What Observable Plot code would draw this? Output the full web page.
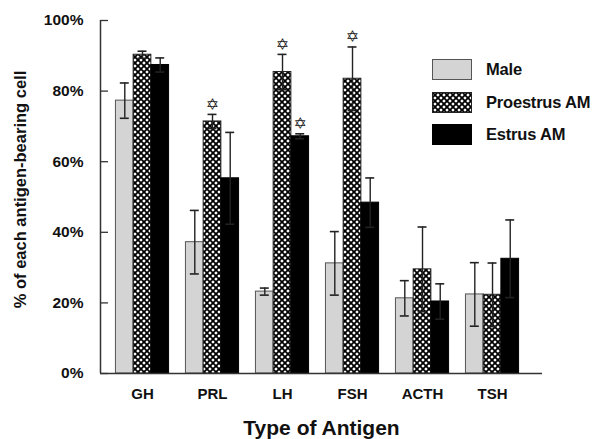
<!DOCTYPE html>
<html>
<head>
<meta charset="utf-8">
<script src="https://cdn.jsdelivr.net/npm/d3@7"></script>
<script src="https://cdn.jsdelivr.net/npm/@observablehq/plot@0.6"></script>
<style>
  html, body { margin: 0; padding: 0; background: #fff; }
  #wrap { position: relative; width: 597px; height: 439px; font-family: "Liberation Sans", Arial, Helvetica, sans-serif; }
  #legend { position: absolute; left: 432px; top: 59px; }
  .li { display: flex; align-items: center; height: 21px; margin-bottom: 11.5px; }
  .li svg { display: block; margin-right: 14px; }
  .li span { font-weight: bold; font-size: 16.5px; color: #111; letter-spacing: -0.2px; }
</style>
</head>
<body>
<svg width="0" height="0" style="position:absolute">
  <defs>
    <pattern id="xhatch" patternUnits="userSpaceOnUse" width="6" height="6">
      <rect width="6" height="6" fill="#fff"/>
      <path d="M0,0L6,6M6,0L0,6" stroke="#000" stroke-width="1.8"/>
    </pattern>
  </defs>
</svg>
<div id="wrap"><div id="legend"></div></div>
<script>
const antigens = ["GH", "PRL", "LH", "FSH", "ACTH", "TSH"];
const seriesNames = ["Male", "Proestrus AM", "Estrus AM"];
const maleValues = [77.3, 37.2, 23.2, 31.2, 21.3, 22.4];
const maleErrors = [5, 9, 1, 9, 5, 9];
const proestrusValues = [90.3, 71.4, 85.4, 83.5, 29.5, 22.3];
const proestrusErrors = [1, 2, 5, 9, 12, 9];
const estrusValues = [87.4, 55.3, 67.2, 48.4, 20.4, 32.5];
const estrusErrors = [2, 13, 0.7, 7, 5, 11];
const proestrusSignificant = [false, true, true, true, false, false];
const estrusSignificant = [false, false, true, false, false, false];
const yTicks = [0, 20, 40, 60, 80, 100];
const xTitle = "Type of Antigen";
const yTitle = "% of each antigen-bearing cell";

const fills = ["#d4d4d4", "url(#xhatch)", "#000"];
const strokes = ["#555", "#222", "#000"];
const barW = 0.253;   // bar width as fraction of group spacing
const capW = 0.064;   // half cap width
const xDomain = [-0.6, 5.714];

const valuesBySeries = [maleValues, proestrusValues, estrusValues];
const errorsBySeries = [maleErrors, proestrusErrors, estrusErrors];
const sigBySeries = [antigens.map(() => false), proestrusSignificant, estrusSignificant];

const rows = [];
seriesNames.forEach((s, si) => {
  antigens.forEach((a, gi) => {
    const v = valuesBySeries[si][gi], e = errorsBySeries[si][gi];
    const c = gi + (si - 1) * barW;
    rows.push({series: s, si, antigen: a, gi, value: v, err: e, c, x1: c - barW / 2, x2: c + barW / 2, lo: v - e, hi: v + e, sig: sigBySeries[si][gi]});
  });
});

const font = '"Liberation Sans", Arial, Helvetica, sans-serif';
const barMarks = seriesNames.map((s, si) =>
  Plot.rect(rows.filter(d => d.si === si), {x1: "x1", x2: "x2", y1: 0, y2: "value", fill: fills[si], stroke: strokes[si], strokeWidth: 1})
);

const chart = Plot.plot({
  width: 597, height: 439,
  marginLeft: 100, marginRight: 55, marginTop: 20, marginBottom: 66,
  x: {domain: xDomain, axis: null},
  y: {domain: [0, 100], axis: null},
  style: {fontFamily: font, color: "#111", background: "transparent"},
  marks: [
    ...barMarks,
    Plot.ruleX(rows, {x: "c", y1: "lo", y2: "hi", stroke: "#222", strokeWidth: 1.4}),
    Plot.ruleY(rows, {y: "hi", x1: d => d.c - capW, x2: d => d.c + capW, stroke: "#222", strokeWidth: 1.6}),
    Plot.ruleY(rows, {y: "lo", x1: d => d.c - capW, x2: d => d.c + capW, stroke: "#222", strokeWidth: 1.6}),
    Plot.text(rows.filter(d => d.sig), {x: "c", y: "hi", text: () => "\u2721", dy: -10, fontSize: 16, fontFamily: "DejaVu Sans", fill: "#222"}),
    Plot.ruleY([0], {stroke: "#333", strokeWidth: 1.5}),
    Plot.ruleX([xDomain[0]], {y1: 0, y2: 100, stroke: "#333", strokeWidth: 1.5}),
    Plot.axisY(yTicks, {tickSize: -8, tickPadding: 25, tickFormat: d => d + "%", fontSize: 15.5, fontWeight: "bold", stroke: "#333", strokeWidth: 1.3}),
    Plot.axisX(d3.range(antigens.length), {tickSize: 0, tickPadding: 15, tickFormat: i => antigens[i], fontSize: 15, fontWeight: "bold"}),
    Plot.text([xTitle], {frameAnchor: "bottom", dy: 61, fontSize: 21, fontWeight: "bold", text: d => d}),
    Plot.text([yTitle], {frameAnchor: "left", textAnchor: "middle", rotate: -90, dx: -80, dy: -7.5, fontSize: 16.5, fontWeight: "bold", text: d => d})
  ]
});
document.getElementById("wrap").prepend(chart);

const legend = document.getElementById("legend");
seriesNames.forEach((s, si) => {
  const item = document.createElement("div");
  item.className = "li";
  item.innerHTML = `<svg width="40" height="21"><rect x="0.5" y="0.5" width="39" height="20" fill="${fills[si]}" stroke="${strokes[si]}" stroke-width="1"/></svg><span>${s}</span>`;
  legend.appendChild(item);
});
</script>
</body>
</html>
